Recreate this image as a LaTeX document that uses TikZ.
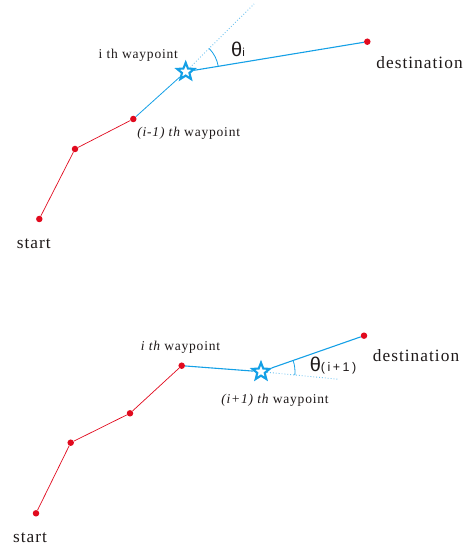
\documentclass[tikz,border=0pt]{standalone}
\usepackage{fontspec}
\setmainfont{Liberation Serif}
\newfontfamily\labfont[LetterSpace=6]{Liberation Serif}
\newfontfamily\thetafont{Liberation Sans}
\newfontfamily\thetasub[LetterSpace=20]{Liberation Sans}
\usetikzlibrary{shapes.geometric}
\definecolor{wpred}{RGB}{225,10,30}
\definecolor{wpblue}{RGB}{20,160,230}
\definecolor{wplight}{RGB}{110,195,240}
\definecolor{wptext}{RGB}{30,25,25}
\begin{document}
\begin{tikzpicture}[x=1pt,y=1pt,
  dot/.style={circle,fill=wpred,inner sep=0pt,minimum size=6.5pt},
  starnode/.style={star,star points=5,star point ratio=2.3,draw=wpblue,line width=2.1pt,fill=white,inner sep=0pt,minimum size=18pt},
  redline/.style={wpred,line width=0.7pt},
  blueline/.style={wpblue,line width=1.1pt},
  thinblue/.style={wpblue,line width=0.8pt},
  extline/.style={wplight,dotted,line width=0.9pt},
  anglearc/.style={wpblue,line width=0.8pt},
  lab/.style={anchor=base,inner sep=0pt,text=wptext},
  biglab/.style={lab,font=\fontsize{17.3}{20}\labfont},
  smalllab/.style={lab,font=\fontsize{13.5}{16}\labfont},
  thetalab/.style={lab,font=\fontsize{20}{23}\thetafont}]
\useasboundingbox (0,0) rectangle (469,550);

% ---------- top panel ----------
\node[dot] (s1) at (39.3,331) {};
\node[dot] (a1) at (75,401) {};
\node[dot] (b1) at (133.3,431) {};
\node[starnode] (st1) at (185.7,478.3) {};
\node[dot] (d1) at (367.3,508.3) {};
\coordinate (e1) at (254,546);

\draw[redline] (s1) -- (a1);
\draw[redline] (a1) -- (b1);
\draw[thinblue] (b1) -- (st1);
\draw[blueline] (st1) -- (d1);
\draw[extline] (st1) -- (e1);
\draw[anglearc] (st1.center) ++(9.4:33) arc[start angle=9.4,end angle=44.7,radius=33];

\node[biglab] (l1start) at (33.8,301.7) {start};
\node[biglab] (l1dest) at (419.5,481.7) {destination};
\node[smalllab] (l1i) at (138.3,491.7) {i th waypoint};
\node[smalllab] (l1prev) at (188.7,413.3) {{\itshape (i-1) th} waypoint};
\node[thetalab] (l1theta) at (238,493.3) {θ{\fontsize{11.5}{13}\selectfont i}};

% ---------- bottom panel ----------
\node[dot] (s2) at (36,36.7) {};
\node[dot] (a2) at (70.7,107.3) {};
\node[dot] (b2) at (130,136.7) {};
\node[dot] (c2) at (181.7,184.3) {};
\node[starnode] (st2) at (261,178.3) {};
\node[dot] (d2) at (364,214.3) {};
\coordinate (e2) at (339,170.7);

\draw[redline] (s2) -- (a2);
\draw[redline] (a2) -- (b2);
\draw[redline] (b2) -- (c2);
\draw[blueline] (c2) -- (st2);
\draw[blueline] (st2) -- (d2);
\draw[extline] (st2) -- (e2);
\draw[anglearc] (st2.center) ++(-5.6:34) arc[start angle=-5.6,end angle=19.3,radius=34];

\node[biglab] (l2start) at (30,7.7) {start};
\node[biglab] (l2dest) at (416,188.3) {destination};
\node[smalllab] (l2i) at (180.5,199) {{\itshape i th} waypoint};
\node[smalllab] (l2next) at (275,146.7) {{\itshape (i+1) th} waypoint};
\node[thetalab] (l2theta) at (333,178.3) {θ{\fontsize{12.5}{14}\thetasub (i+1)}};
\end{tikzpicture}
\end{document}
